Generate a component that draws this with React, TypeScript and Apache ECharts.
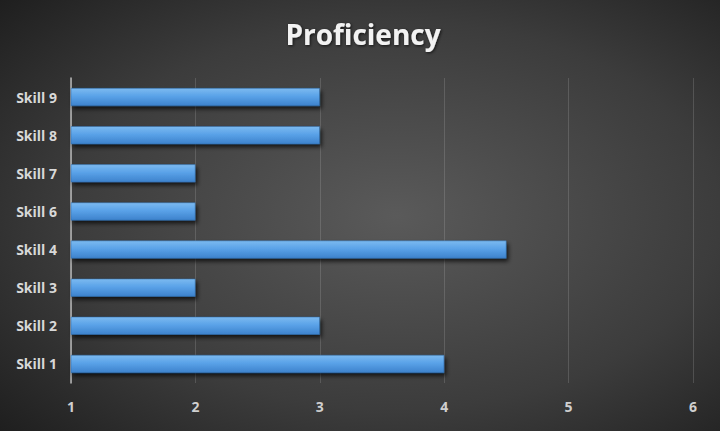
import React, { useEffect, useRef } from "react";
import * as echarts from "echarts";

const categories = ["Skill 1", "Skill 2", "Skill 3", "Skill 4", "Skill 6", "Skill 7", "Skill 8", "Skill 9"];
const values = [4, 3, 2, 4.5, 2, 2, 3, 3];
const xMin = 1;
const xMax = 6;

export default function App() {
  const ref = useRef<HTMLDivElement>(null);
  useEffect(() => {
    document.body.style.margin = "0";
    const chart = echarts.init(ref.current!, undefined, { renderer: "svg" });
    chart.setOption({
      animation: false,
      backgroundColor: {
        type: "radial",
        x: 0.55,
        y: 0.5,
        r: 0.75,
        colorStops: [
          { offset: 0, color: "#5a5a5a" },
          { offset: 0.6, color: "#3c3c3c" },
          { offset: 1, color: "#1e1e1e" },
        ],
      },
      title: {
        text: "Proficiency",
        left: 358,
        top: 15,
        textAlign: "center",
        textStyle: {
          color: "#f2f2f2",
          fontSize: 28,
          fontWeight: "bold",
          fontFamily: "Open Sans",
          textShadowColor: "rgba(0,0,0,0.7)",
          textShadowBlur: 3,
          textShadowOffsetX: 1,
          textShadowOffsetY: 1,
        },
      },
      grid: { left: 71, right: 27, top: 78, bottom: 48, containLabel: false },
      xAxis: {
        type: "value",
        min: xMin,
        max: xMax,
        interval: 1,
        axisLine: { show: false },
        axisTick: { show: false },
        axisLabel: {
          color: "#cfcfcf",
          fontSize: 14,
          fontFamily: "Open Sans",
          fontWeight: "bold",
          margin: 16,
        },
        splitLine: { show: true, lineStyle: { color: "rgba(200,200,200,0.2)", width: 1 } },
      },
      yAxis: {
        type: "category",
        data: categories,
        axisLine: { show: true, lineStyle: { color: "#b8b8b8", width: 1.5 } },
        axisTick: { show: false },
        axisLabel: {
          color: "#d8d8d8",
          fontSize: 14,
          fontFamily: "Open Sans",
          fontWeight: "bold",
          margin: 14,
        },
        splitLine: { show: false },
      },
      series: [
        {
          type: "bar",
          data: values,
          barWidth: "47%",
          itemStyle: {
            color: {
              type: "linear",
              x: 0,
              y: 0,
              x2: 0,
              y2: 1,
              colorStops: [
                { offset: 0, color: "#7cbaf0" },
                { offset: 0.45, color: "#5aa2e8" },
                { offset: 1, color: "#3d82cc" },
              ],
            },
            borderColor: "#2f6aa8",
            borderWidth: 0.5,
            shadowColor: "rgba(0,0,0,0.7)",
            shadowBlur: 4,
            shadowOffsetX: 2,
            shadowOffsetY: 3,
          },
        },
      ],
    });
    return () => chart.dispose();
  }, []);
  return <div ref={ref} style={{ width: 720, height: 431 }} />;
}
